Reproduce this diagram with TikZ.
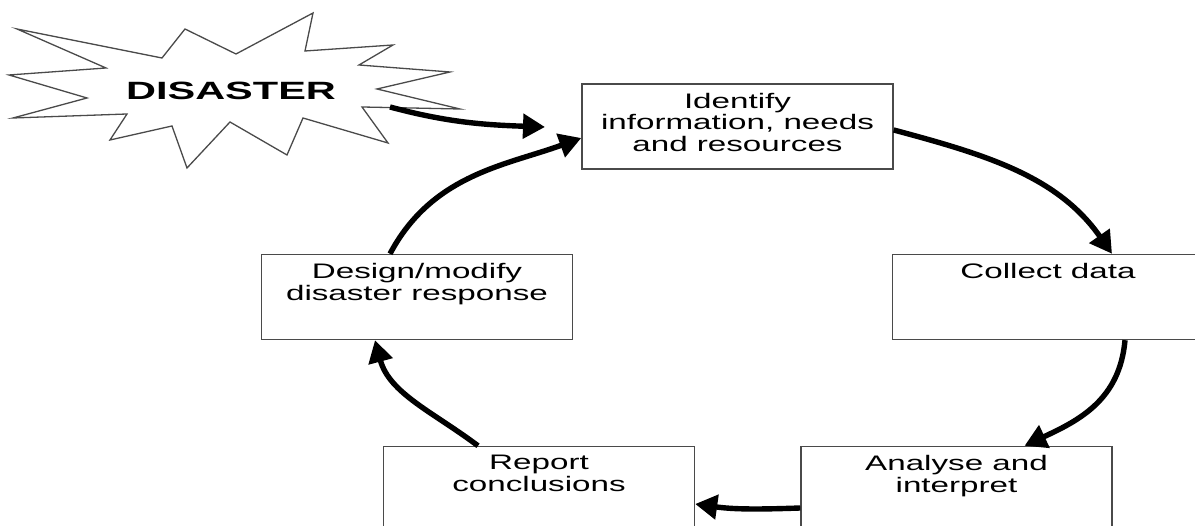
\documentclass[tikz,border=0pt]{standalone}
\usepackage{fontspec}
\setmainfont[FakeStretch=1.58]{Liberation Sans}
\newfontfamily\burstfont[FakeStretch=1.66]{Liberation Sans Bold}
\usetikzlibrary{arrows.meta}
\definecolor{edgegray}{HTML}{4A4A4A}
\begin{document}
\begin{tikzpicture}[x=1pt,y=1pt,
  stagebox/.style={draw=edgegray, line width=1.4pt, fill=white,
    minimum width=311pt, minimum height=85pt, inner sep=0pt},
  stagetext/.style={anchor=north, yshift=-9.5pt, inner sep=0pt, align=center,
    font=\fontsize{21}{21.5}\selectfont},
  flow/.style={line width=5.4pt, black,
    -{Triangle[length=22pt,width=24pt]}},
]
\useasboundingbox (0,0) rectangle (1195,526);

% starburst
\draw[edgegray, line width=1.3pt, fill=white, line join=miter]
  (17,497) -- (162,468) -- (185,497) -- (236,472) -- (313,513) -- (305,475)
  -- (393,481) -- (359,461) -- (450,454) -- (377,437) -- (460,417)
  -- (362,419) -- (388,383) -- (303,408) -- (287,371) -- (230,404)
  -- (187,358) -- (172,400) -- (110,386) -- (127,412) -- (13,408)
  -- (87,428) -- (9,451) -- (106,458) -- cycle;
\node[anchor=base, inner sep=0pt, font=\burstfont\fontsize{25}{28}\selectfont]
  (disaster) at (231,426) {DISASTER};
\coordinate (burstout) at (390,419);
\coordinate (burstend) at (545,399);

% process stages
\node[stagebox, label={[stagetext]north:Identify\\information, needs\\and resources}]
  (ident) at (737.5,399.5) {};
\node[stagebox, label={[stagetext]north:Collect data}]
  (collect) at (1048,229) {};
\node[stagebox, label={[stagetext]north:Analyse and\\interpret}]
  (analyse) at (956.5,37) {};
\node[stagebox, label={[stagetext]north:Report\\conclusions}]
  (report) at (539,37) {};
\node[stagebox, label={[stagetext]north:Design/modify\\disaster response}]
  (design) at (417,229) {};

% cycle arrows
\draw[flow] (burstout) .. controls +(-15:60) and +(178:60) .. (burstend);
\draw[flow] ([xshift=-27pt]design.north)
  .. controls +(62:90) and +(200:80) .. ([yshift=-11.5pt]ident.west);
\draw[flow] ([yshift=-3.5pt]ident.east)
  .. controls +(-15:95) and +(125:95) .. ([xshift=64pt]collect.north);
\draw[flow] ([xshift=77pt]collect.south)
  .. controls +(-95:60) and +(25:60) .. ([xshift=68pt]analyse.north);
\draw[flow] ([yshift=-19pt]analyse.west)
  .. controls +(182:40) and +(-8:40) .. ([yshift=-15pt]report.east);
\draw[flow] ([xshift=-61pt]report.north)
  .. controls +(143:55) and +(-75:55) .. ([xshift=-42pt]design.south);
\end{tikzpicture}
\end{document}
